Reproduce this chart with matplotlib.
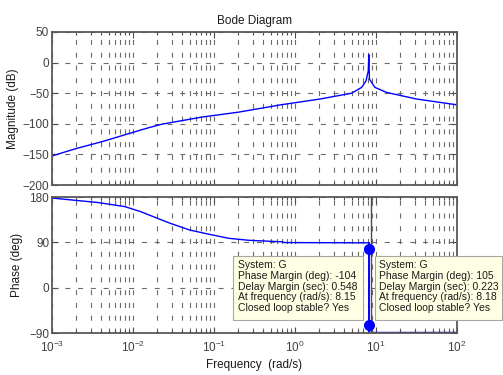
import matplotlib
matplotlib.use('Agg')
import matplotlib.pyplot as plt
from matplotlib.patches import Rectangle
from matplotlib.ticker import LogLocator, NullFormatter

plt.rcParams['font.family'] = ['Liberation Sans', 'DejaVu Sans']
plt.rcParams['font.size'] = 8.5

# Magnitud (dB)
frec_mag = [0.001, 0.00204, 0.0042, 0.0102, 0.016, 0.023, 0.071, 0.2, 0.69, 2.04, 5.0,
            6.65, 7.52, 8.03, 8.15, 8.3, 9.7, 13.5, 31.6, 100]
magnitud = [-152.5, -140, -129, -113.6, -106, -100.5, -89, -81, -68.7, -59.5, -50,
            -40.5, -30, -13.5, 13, -27, -40.5, -48.7, -59.5, -69]

# Fase (deg)
frec_fase = [0.001, 0.00205, 0.0037, 0.0079, 0.0124, 0.0198, 0.0286, 0.05, 0.087,
             0.152, 0.27, 0.7, 0.75, 8.16, 8.16, 20, 100]
fase = [178, 173, 169, 161, 151, 138, 128, 114.5, 106, 98, 94, 91, 89.5, 89,
        -89, -89, -89]

# Marcadores de margen
frec_marcas = [8.15, 8.18]
fase_marcas = [76, -75]
frec_linea_margen = 8.6

textos = [
    "System: G\nPhase Margin (deg): -104\nDelay Margin (sec): 0.548\n"
    "At frequency (rad/s): 8.15\nClosed loop stable? Yes",
    "System: G\nPhase Margin (deg): 105\nDelay Margin (sec): 0.223\n"
    "At frequency (rad/s): 8.18\nClosed loop stable? Yes",
]

W, H = 503, 375
fig = plt.figure(figsize=(W / 100, H / 100), dpi=100)


def fx(px):
    return px / W


def fy(py):
    return 1 - py / H


ax1 = fig.add_axes([fx(52), fy(185), fx(457) - fx(52), fy(32) - fy(185)])
ax2 = fig.add_axes([fx(52), fy(333), fx(457) - fx(52), fy(197) - fy(333)])

gris_grid = '0.42'
for ax in (ax1, ax2):
    ax.set_xscale('log')
    ax.set_xlim(1e-3, 1e2)
    ax.xaxis.set_major_locator(LogLocator(base=10, numticks=10))
    ax.xaxis.set_minor_locator(LogLocator(base=10, subs=range(2, 10), numticks=20))
    ax.xaxis.set_minor_formatter(NullFormatter())
    ax.tick_params(which='both', direction='in', top=True, right=True,
                   colors='0.3', labelcolor='0.25', width=0.8)
    ax.tick_params(which='major', length=4, pad=2)
    ax.tick_params(which='minor', length=2.5)
    ax.grid(True, which='both', color=gris_grid, linewidth=0.8,
            linestyle=(0, (4.5, 7)))
    for s in ax.spines.values():
        s.set_color('0.35')
        s.set_linewidth(1.3)

ax1.plot(frec_mag, magnitud, color='#0000FF', linewidth=1)
ax1.set_ylim(-200, 50)
ax1.set_yticks([-200, -150, -100, -50, 0, 50])
ax1.tick_params(axis='x', labelbottom=False)
ax1.set_ylabel('Magnitude (dB)', color='0.1')
ax1.yaxis.set_label_coords((19 - 52) / 405, 0.5)
ax1.set_title('Bode Diagram', pad=5.5, fontsize=8.5, color='0.1')

ax2.plot(frec_fase, fase, color='#0000FF', linewidth=1)
ax2.axvline(frec_linea_margen, color='0.3', linewidth=1)
ax2.plot(frec_fase[13:15], fase[13:15], color='#0000FF', linewidth=1.3)
ax2.plot(frec_marcas, fase_marcas, 'o', color='#0000FF', markersize=7, linestyle='none')
ax2.set_ylim(-90, 180)
ax2.set_yticks([-90, 0, 90, 180])
ax2.tick_params(axis='x', which='major', pad=5)
ax2.set_ylabel('Phase (deg)', color='0.1')
ax2.yaxis.set_label_coords((23.5 - 52) / 405, 0.5)
ax2.set_xlabel('Frequency  (rad/s)', color='0.1')
ax2.xaxis.set_label_coords(0.5, (333 - 359) / 136)

# Cuadros de datos
cajas = [(233, 363, 238), (375, 502, 379)]
for (x0, x1, xt), txt in zip(cajas, textos):
    fig.add_artist(Rectangle((fx(x0), fy(320)), fx(x1) - fx(x0), fy(256) - fy(320),
                             transform=fig.transFigure, facecolor='#FFFFE4',
                             edgecolor='0.65', linewidth=0.8, zorder=5))
    fig.text(fx(xt), fy(260.5), txt, ha='left', va='top', fontsize=7.5,
             linespacing=1.07, color='0.1', zorder=6)

fig.savefig('out.png', dpi=100)
